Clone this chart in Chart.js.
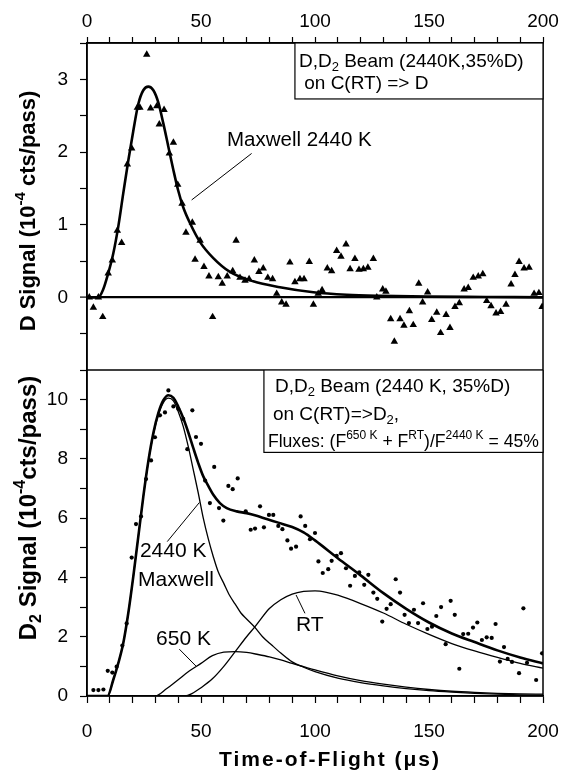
<!DOCTYPE html>
<html>
<head>
<meta charset="utf-8">
<script src="https://cdn.jsdelivr.net/npm/chart.js@4.4.0/dist/chart.umd.min.js"></script>
<style>
  body { margin: 0; background: #fff; }
  #wrap { position: relative; width: 565px; height: 773px; }
  canvas { position: absolute; left: 0; }
  #topChart { top: 0; }
  #botChart { top: 370px; }
</style>
</head>
<body>
<div id="wrap">
  <canvas id="topChart" width="565" height="370"></canvas>
  <canvas id="botChart" width="565" height="403"></canvas>
</div>
<script>
// tick labels
let xTickLabels = [0, 50, 100, 150, 200];
let topYLabels = [0, 1, 2, 3];
let botYLabels = [0, 2, 4, 6, 8, 10];

// D signal (top panel), triangles
let dTime = [1.0, 2.8, 5.0, 6.9, 9.3, 11.1, 13.3, 15.2, 17.7, 19.6, 22.1, 23.2, 26.2, 27.9, 30.6, 31.7, 33.8, 36.1, 37.9, 39.8,
  41.7, 43.4, 46.2, 47.4, 49.6, 51.3, 53.5, 55.1, 57.6, 59.3, 61.5, 63.9, 65.4, 67.1, 69.3, 71.1, 73.4, 75.4, 77.3, 79.3,
  81.4, 83.2, 85.4, 87.3, 89.0, 91.2, 93.4, 95.2, 97.5, 99.3, 101.4, 103.1, 105.4, 107.3, 109.5, 111.4, 113.6, 115.4, 117.5, 119.3,
  121.2, 123.2, 125.6, 127.1, 129.7, 131.1, 133.2, 134.8, 137.3, 139.0, 141.4, 143.1, 145.5, 147.2, 149.4, 151.2, 153.4, 155.1, 157.5, 159.2,
  161.4, 163.3, 165.4, 167.2, 169.4, 171.6, 173.6, 175.3, 177.2, 179.4, 181.4, 183.8, 186.0, 187.7, 189.5, 191.7, 193.9, 196.1, 198.2, 199.6];
let dSignal = [0, -0.14, 0.0, -0.27, 0.33, 0.51, 0.92, 0.75, 1.83, 2.05, 2.61, 2.61, 3.34, 2.6, 2.63, 2.38, 2.58, 1.98, 2.13, 1.55,
  1.29, 0.89, 1.03, 0.52, 0.78, 0.42, 0.29, -0.27, 0.28, 0.19, 0.29, 0.36, 0.78, 0.27, 0.23, 0.25, 0.51, 0.35, 0.40, 0.27,
  0.25, 0.05, -0.07, -0.1, 0.48, 0.21, 0.25, 0.25, 0.49, -0.1, 0.05, 0.1, 0.40, 0.36, 0.64, 0.56, 0.73, 0.39, 0.53, 0.38,
  0.39, 0.41, 0.53, 0.0, 0.11, 0.08, -0.3, -0.61, -0.3, -0.39, -0.19, -0.38, 0.19, -0.07, 0.07, -0.31, -0.21, -0.49, -0.24, -0.42,
  -0.13, -0.08, 0.11, 0.13, 0.27, 0.29, 0.32, -0.05, -0.12, -0.22, -0.2, -0.1, 0.18, 0.31, 0.49, 0.40, 0.41, 0.05, 0.06, -0.13];

// Maxwell 2440 K fit (top panel)
let maxTopTime = [0, 5, 7, 9.3, 11.5, 13.7, 15.9, 18.1, 20.3, 22.5, 24.7, 26.9, 29.1, 31.3, 33.5, 35.7, 37.9, 40, 42.2, 45.2,
  49.6, 55.4, 62.7, 72.9, 84.6, 99.3, 113.9, 128.5, 150, 175, 200];
let maxTopFit = [0, 0, 0.1, 0.33, 0.6, 0.97, 1.43, 1.88, 2.29, 2.66, 2.85, 2.9, 2.85, 2.68, 2.39, 2.07, 1.75, 1.47, 1.24, 1.02,
  0.76, 0.54, 0.35, 0.22, 0.14, 0.07, 0.035, 0.02, 0.01, 0.005, 0];

// D2 signal (bottom panel), dots
let d2Time = [2.8, 5.0, 7.2, 9.1, 11.1, 13.0, 15.5, 17.4, 19.6, 21.5, 23.7, 25.9, 28.1, 29.8, 32.0, 34.2, 35.7, 37.9, 40.0, 42.2,
  44.0, 46.2, 47.8, 50.0, 51.8, 53.9, 55.8, 57.9, 59.8, 62.0, 63.9, 66.1, 69.6, 71.8, 73.7, 75.9, 77.6, 79.8, 81.7, 83.9,
  85.7, 87.9, 89.5, 91.7, 93.7, 95.7, 97.8, 100, 101.5, 103.4, 105.8, 107.3, 109.5, 111.4, 113.6, 115.4, 117.5, 119.4, 121.6, 123.4,
  125.6, 127.3, 129.5, 131.4, 133.2, 135.4, 137.3, 139.3, 141.2, 143.4, 145.2, 147.4, 149.3, 151.3, 153.2, 155.3, 157.3, 159.5, 161.3, 163.3,
  165.0, 167.2, 169.3, 171.2, 173.2, 175.3, 177.5, 179.2, 181.1, 182.9, 184.5, 186.4, 189.5, 191.4, 193.0, 197.0, 199.6];
let d2Signal = [0.2, 0.2, 0.22, 0.85, 0.79, 0.99, 1.7, 2.45, 4.67, 5.8, 6.06, 7.32, 7.95, 8.73, 9.47, 9.57, 10.31, 9.77, 9.69, 9.35,
  8.33, 9.64, 8.74, 8.51, 7.27, 6.51, 7.73, 6.34, 5.92, 7.09, 6.98, 7.34, 6.23, 5.61, 5.65, 6.4, 5.69, 6.11, 6.11, 5.74,
  5.63, 5.25, 4.97, 5.04, 6.06, 5.74, 5.29, 5.5, 4.54, 4.15, 4.28, 4.56, 4.73, 4.82, 4.31, 3.72, 4.05, 4.17, 3.75, 4.09,
  3.49, 3.28, 2.51, 2.94, 3.1, 3.94, 3.49, 2.74, 2.46, 2.91, 2.46, 3.13, 2.26, 2.34, 2.7, 3.0, 1.75, 3.21, 2.74, 0.92,
  2.09, 2.1, 2.31, 2.48, 1.89, 1.98, 1.96, 2.43, 1.16, 1.65, 1.25, 1.15, 0.77, 2.96, 1.12, 0.54, 1.44];

// total fit (bottom panel)
let fitTime = [0, 9, 11.5, 13.7, 15.9, 18.1, 20.3, 22.5, 24.7, 26.9, 29.1, 31.3, 33.5, 35.7, 37.9, 40, 42.2, 44.4, 46.6, 48.8,
  51, 53.2, 55.4, 58.3, 61.3, 65.7, 70, 74.4, 78.8, 83.9, 90, 95, 100, 110, 120, 130, 140, 150, 160, 170, 180, 190, 200];
let fitTotal = [0, 0, 0.54, 1.1, 1.78, 2.79, 4.03, 5.38, 6.73, 7.92, 8.87, 9.55, 9.98, 10.15, 10.06, 9.77, 9.38, 8.9, 8.37, 7.86,
  7.41, 7.09, 6.79, 6.51, 6.34, 6.23, 6.17, 6.08, 5.97, 5.85, 5.7, 5.52, 5.25, 4.65, 4.07, 3.47, 2.94, 2.48, 2.11, 1.82, 1.54, 1.3, 1.1];

// 2440 K Maxwell component
let fit2440Time = [0, 9, 11.5, 13.7, 15.9, 18.1, 20.3, 22.5, 24.7, 26.9, 29.1, 31.3, 33.5, 35.7, 37.9, 40, 42.2, 44.4, 46.6, 48.8,
  51, 53.2, 55.4, 57.5, 60, 62.5, 65, 67.5, 70, 73.5, 77, 81, 85, 90, 95, 100, 110, 120, 130, 140, 150, 160, 170, 180, 190, 200];
let fit2440 = [0, 0, 0.54, 1.1, 1.78, 2.79, 4.03, 5.38, 6.73, 7.9, 8.83, 9.48, 9.9, 10.05, 9.96, 9.6, 9.1, 8.42, 7.64, 6.85,
  6.0, 5.3, 4.7, 4.2, 3.8, 3.4, 3.1, 2.8, 2.6, 2.33, 2.0, 1.72, 1.45, 1.15, 0.97, 0.82, 0.6, 0.45, 0.34, 0.25, 0.18, 0.13, 0.09, 0.06, 0.04, 0.03];

// 650 K component
let fit650Time = [0, 30, 35, 40, 45, 50, 55, 60, 65, 70, 75, 80, 85, 90, 95, 100, 110, 120, 130, 140, 150, 160, 170, 180, 190, 200];
let fit650 = [0, 0, 0.25, 0.55, 0.85, 1.1, 1.36, 1.48, 1.5, 1.47, 1.4, 1.32, 1.22, 1.1, 0.99, 0.88, 0.68, 0.52, 0.4, 0.3, 0.22, 0.16, 0.12, 0.09, 0.07, 0.06];

// RT component
let fitRTTime = [0, 43, 46, 50, 55, 60, 65, 70, 73.7, 80, 85, 90, 95, 100, 105, 110, 120, 130, 140, 150, 160, 170, 180, 190, 200];
let fitRT = [0, 0, 0.08, 0.28, 0.58, 1.0, 1.5, 2.0, 2.34, 2.95, 3.25, 3.44, 3.53, 3.55, 3.5, 3.4, 3.12, 2.8, 2.42, 2.08, 1.77, 1.52, 1.3, 1.1, 0.94];

function pairs(xs, ys) {
  let out = [];
  for (let i = 0; i < xs.length; i++) {
    out.push({ x: xs[i], y: ys[i] });
  }
  return out;
}

const FAMILY = '"Liberation Sans", Arial, Helvetica, sans-serif';
Chart.defaults.font.family = FAMILY;
Chart.defaults.color = '#000';

// draws text with sub/superscript pieces
function drawRich(ctx, segs, x, y, size, weight, align) {
  let small = Math.round(size * 0.66);
  let fontOf = s => weight + ' ' + (s.sub || s.sup ? small : size) + 'px ' + FAMILY;
  let total = 0;
  segs.forEach(s => { ctx.font = fontOf(s); total += ctx.measureText(s.t).width; });
  let cx = align === 'center' ? x - total / 2 : x;
  ctx.textAlign = 'left';
  ctx.textBaseline = 'middle';
  ctx.fillStyle = '#000';
  segs.forEach(s => {
    ctx.font = fontOf(s);
    let dy = s.sub ? size * 0.3 : (s.sup ? -size * 0.36 : 0);
    ctx.fillText(s.t, cx, y + dy);
    cx += ctx.measureText(s.t).width;
  });
}

// frame, leader lines, labels, text box and axis titles
const notesPlugin = {
  id: 'notes',
  afterDatasetsDraw(chart, args, opts) {
    let ctx = chart.ctx;
    let a = chart.chartArea;
    let x = chart.scales.x;
    let y = chart.scales.y;
    ctx.save();
    ctx.strokeStyle = '#000';
    ctx.lineWidth = 1.5;
    ctx.strokeRect(a.left, a.top, a.right - a.left, a.bottom - a.top);

    ctx.lineWidth = 1;
    (opts.leaders || []).forEach(l => {
      ctx.beginPath();
      ctx.moveTo(x.getPixelForValue(l[0]), y.getPixelForValue(l[1]));
      ctx.lineTo(x.getPixelForValue(l[2]), y.getPixelForValue(l[3]));
      ctx.stroke();
    });

    (opts.labels || []).forEach(n => {
      drawRich(ctx, n.segs, x.getPixelForValue(n.t), y.getPixelForValue(n.v), n.size, 'normal', 'left');
    });

    if (opts.box) {
      let b = opts.box;
      let bl = x.getPixelForValue(b.t);
      let bb = y.getPixelForValue(b.v);
      ctx.fillStyle = '#fff';
      ctx.fillRect(bl, a.top, a.right - bl, bb - a.top);
      ctx.lineWidth = 1.2;
      ctx.strokeRect(bl, a.top, a.right - bl, bb - a.top);
      b.lines.forEach(ln => drawRich(ctx, ln.segs, bl + ln.dx, a.top + ln.dy, ln.size, 'normal', 'left'));
    }

    if (opts.yTitle) {
      let t = opts.yTitle;
      ctx.save();
      ctx.translate(t.x, t.y);
      ctx.rotate(-Math.PI / 2);
      drawRich(ctx, t.segs, 0, 0, t.size, 'bold', 'center');
      ctx.restore();
    }

    if (opts.xTitle) {
      let t = opts.xTitle;
      ctx.letterSpacing = t.spacing + 'px';
      drawRich(ctx, t.segs, t.x, t.y, t.size, 'bold', 'center');
      ctx.letterSpacing = '0px';
    }
    ctx.restore();
  }
};

const tickFont = { family: FAMILY, size: 19 };

// fixed axis sizes, no extra room for edge labels
function fixWidth(w) {
  return s => { s.width = w; s.paddingTop = 0; s.paddingBottom = 0; };
}
function fixHeight(h) {
  return s => { s.height = h; s.paddingLeft = 0; s.paddingRight = 0; };
}

function baseOptions() {
  return {
    responsive: false,
    animation: false,
    events: [],
    layout: { autoPadding: false, padding: { left: 0, right: 22, top: 0, bottom: 0 } },
    plugins: { legend: { display: false }, tooltip: { enabled: false } }
  };
}

// top panel
let topOptions = baseOptions();
topOptions.scales = {
  x: {
    type: 'linear', position: 'top', min: 0, max: 200,
    afterFit: fixHeight(43),
    ticks: { stepSize: 10, autoSkip: false, maxRotation: 0, padding: 4, font: tickFont, color: '#000',
      callback: v => xTickLabels.includes(v) ? String(v) : '' },
    grid: { drawOnChartArea: false, tickLength: 6, tickColor: '#000', tickWidth: 1.2 },
    border: { color: '#000', width: 1.5 }
  },
  y: {
    type: 'linear', min: -1, max: 3.5,
    afterFit: fixWidth(87),
    ticks: { stepSize: 0.5, autoSkip: false, padding: 12, font: tickFont, color: '#000',
      callback: v => topYLabels.includes(v) ? String(v) : '' },
    grid: {
      color: c => (c.tick && c.tick.value === 0) ? '#000' : 'rgba(0,0,0,0)',
      lineWidth: c => (c.tick && c.tick.value === 0) ? 2.2 : 1,
      tickColor: '#000', tickWidth: 1.2, tickLength: 7
    },
    border: { color: '#000', width: 1.5 }
  }
};
topOptions.plugins.notes = {
  leaders: [[72.2, 1.98, 45.9, 1.34]],
  labels: [{ segs: [{ t: 'Maxwell 2440 K' }], t: 61.4, v: 2.16, size: 20.5 }],
  box: {
    t: 91.2, v: 2.73,
    lines: [
      { segs: [{ t: 'D,D' }, { t: '2', sub: true }, { t: ' Beam (2440K,35%D)' }], dx: 4, dy: 19, size: 19 },
      { segs: [{ t: ' on C(RT) => D' }], dx: 4, dy: 41, size: 19 }
    ]
  },
  yTitle: { segs: [{ t: 'D Signal (10' }, { t: '-4', sup: true }, { t: ' cts/pass)' }], x: 29, y: 211, size: 22 }
};

new Chart(document.getElementById('topChart'), {
  type: 'scatter',
  data: {
    datasets: [
      { label: 'D signal', data: pairs(dTime, dSignal), pointStyle: 'triangle', pointRadius: 4.3,
        backgroundColor: '#000', borderColor: '#000', borderWidth: 0, showLine: false },
      { label: 'Maxwell 2440 K', data: pairs(maxTopTime, maxTopFit), showLine: true, pointRadius: 0,
        borderColor: '#000', borderWidth: 2.6, cubicInterpolationMode: 'monotone' }
    ]
  },
  options: topOptions,
  plugins: [notesPlugin]
});

// bottom panel
let botOptions = baseOptions();
botOptions.scales = {
  x: {
    type: 'linear', position: 'bottom', min: 0, max: 200,
    afterFit: fixHeight(77),
    ticks: { stepSize: 10, autoSkip: false, maxRotation: 0, padding: 17, font: tickFont, color: '#000',
      callback: v => xTickLabels.includes(v) ? String(v) : '' },
    grid: { drawOnChartArea: false, tickLength: 7, tickColor: '#000', tickWidth: 1.2 },
    border: { color: '#000', width: 1.5 }
  },
  y: {
    type: 'linear', min: 0, max: 11,
    afterFit: fixWidth(87),
    ticks: { stepSize: 1, autoSkip: false, padding: 12, font: tickFont, color: '#000',
      callback: v => botYLabels.includes(v) ? String(v) : '' },
    grid: { drawOnChartArea: false, tickColor: '#000', tickWidth: 1.2, tickLength: 7 },
    border: { color: '#000', width: 1.5 }
  }
};
botOptions.plugins.notes = {
  leaders: [[49.3, 6.53, 35.2, 5.21], [40.5, 1.58, 47.8, 1.01], [91.7, 3.41, 95.6, 2.79]],
  labels: [
    { segs: [{ t: '2440 K' }], t: 23.2, v: 4.875, size: 21 },
    { segs: [{ t: 'Maxwell' }], t: 22.4, v: 3.92, size: 21 },
    { segs: [{ t: '650 K' }], t: 30.3, v: 1.93, size: 21 },
    { segs: [{ t: 'RT' }], t: 91.7, v: 2.40, size: 21 }
  ],
  box: {
    t: 77.6, v: 8.22,
    lines: [
      { segs: [{ t: 'D,D' }, { t: '2', sub: true }, { t: ' Beam (2440 K, 35%D)' }], dx: 11, dy: 17, size: 19 },
      { segs: [{ t: 'on C(RT)=>D' }, { t: '2', sub: true }, { t: ',' }], dx: 9, dy: 45, size: 19 },
      { segs: [{ t: 'Fluxes: (F' }, { t: '650 K', sup: true }, { t: ' + F' }, { t: 'RT', sup: true },
        { t: ')/F' }, { t: '2440 K', sup: true }, { t: ' = 45%' }], dx: 4, dy: 72, size: 17.6 }
    ]
  },
  yTitle: { segs: [{ t: 'D' }, { t: '2', sub: true }, { t: ' Signal (10' }, { t: '-4', sup: true }, { t: 'cts/pass)' }], x: 29, y: 138, size: 24 },
  xTitle: { segs: [{ t: 'Time-of-Flight (\u03bcs)' }], x: 330, y: 390, size: 21, spacing: 2 }
};

new Chart(document.getElementById('botChart'), {
  type: 'scatter',
  data: {
    datasets: [
      { label: 'D2 signal', data: pairs(d2Time, d2Signal), pointStyle: 'circle', pointRadius: 2.1,
        backgroundColor: '#000', borderColor: '#000', borderWidth: 0, showLine: false },
      { label: 'Total fit', data: pairs(fitTime, fitTotal), showLine: true, pointRadius: 0,
        borderColor: '#000', borderWidth: 2.6, cubicInterpolationMode: 'monotone' },
      { label: '2440 K Maxwell', data: pairs(fit2440Time, fit2440), showLine: true, pointRadius: 0,
        borderColor: '#000', borderWidth: 1.3, cubicInterpolationMode: 'monotone' },
      { label: '650 K', data: pairs(fit650Time, fit650), showLine: true, pointRadius: 0,
        borderColor: '#000', borderWidth: 1.3, cubicInterpolationMode: 'monotone' },
      { label: 'RT', data: pairs(fitRTTime, fitRT), showLine: true, pointRadius: 0,
        borderColor: '#000', borderWidth: 1.3, cubicInterpolationMode: 'monotone' }
    ]
  },
  options: botOptions,
  plugins: [notesPlugin]
});
</script>
</body>
</html>
